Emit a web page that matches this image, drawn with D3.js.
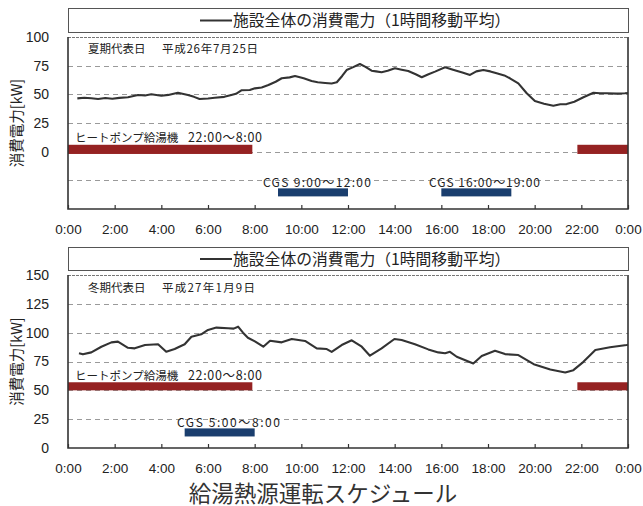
<!DOCTYPE html>
<html><head><meta charset="utf-8">
<script src="https://cdn.jsdelivr.net/npm/d3@7"></script>
<style>
html,body{margin:0;padding:0;background:#fff;}
svg{display:block;}
</style></head>
<body><svg id="chart" width="643" height="506"></svg>
<script>
// ---------------- DATA ----------------
const tickHours = [0,2,4,6,8,10,12,14,16,18,20,22,24];
const tickLabels = ["0:00","2:00","4:00","6:00","8:00","10:00","12:00","14:00","16:00","18:00","20:00","22:00","0:00"];

const legendLabel = "施設全体の消費電力（1時間移動平均）";
const yAxisTitle = "消費電力[kW]";
const chartTitle = "給湯熱源運転スケジュール";

// Summer representative day
const summerDayLabel = ["夏期代表日", "平成26年7月25日"];
const summerYTicks = [0,25,50,75,100];
const summerGrid = [-25,0,25,50,75];
const summerDomain = [-50,100];
const summerHours = [0.40,0.7,1.0,1.29,1.6,1.9,2.2,2.57,3.0,3.3,3.57,4.0,4.3,4.71,5.14,5.4,5.64,6.0,6.29,6.7,7.0,7.2,7.43,7.79,8.01,8.3,8.59,8.9,9.16,9.5,9.73,10.1,10.44,10.7,11.02,11.3,11.52,11.75,11.94,12.2,12.51,12.75,13.01,13.2,13.44,13.7,14.01,14.3,14.58,14.9,15.16,15.45,15.73,16.16,16.5,16.9,17.23,17.5,17.8,18.1,18.37,18.7,18.94,19.3,19.66,20.01,20.4,20.8,21.1,21.37,21.7,22.09,22.52,22.8,23.09,23.5,23.87,24.0];
const summerPower = [46.5,47.0,46.6,45.9,46.8,46.2,46.9,47.4,49.4,49.0,50.0,48.8,49.5,51.4,49.4,47.8,45.9,46.4,47.0,47.8,49.4,50.5,53.5,53.8,55.2,56.0,58.1,61.0,64.0,64.8,66.0,64.0,61.6,60.5,59.9,59.5,60.5,66.0,71.2,73.5,76.5,74.0,70.6,70.0,69.2,70.5,72.7,71.5,70.4,67.5,64.9,67.5,69.8,73.6,71.5,69.0,66.9,70.0,71.2,70.0,68.4,66.5,64.0,59.6,50.9,44.1,41.8,40.0,41.3,41.5,43.5,47.4,51.4,51.0,50.9,50.6,50.9,51.2];
// schedule bars: [start hour, end hour, low kW, high kW]
const summerHeatPump = [[0,7.9,-2,6],[21.83,24,-2,6]];
const summerCGS = [[9,12,-39,-32],[16,19,-39,-32]];
const summerHeatPumpText = ["ヒートポンプ給湯機", "22:00～8:00"];
const summerCGSText = ["CGS  9:00～12:00", "CGS  16:00～19:00"];

// Winter representative day
const winterDayLabel = ["冬期代表日", "平成27年1月9日"];
const winterYTicks = [0,25,50,75,100,125,150];
const winterGrid = [25,50,75,100,125];
const winterDomain = [0,150];
const winterHours = [0.47,0.64,1.0,1.43,1.86,2.14,2.57,2.86,3.3,3.86,4.21,4.57,5.0,5.29,5.71,6.0,6.36,6.86,7.1,7.29,7.5,7.71,8.01,8.37,8.66,9.16,9.59,10.16,10.66,11.09,11.3,11.73,12.16,12.59,12.94,13.44,13.99,14.3,14.87,15.44,15.87,16.16,16.37,16.66,17.37,17.73,18.3,18.73,19.3,19.96,20.67,21.31,21.66,22.09,22.6,23.23,23.94,24.0];
const winterPower = [82.1,81.2,82.9,87.8,91.6,92.2,86.9,86.4,89.3,89.9,83.4,85.8,89.9,96.5,98.6,102.4,104.4,103.8,103.5,105.2,100.0,95.6,92.5,87.8,93.0,91.6,94.5,92.8,86.4,85.8,83.4,89.3,93.4,87.8,80.0,86.4,94.5,93.6,89.9,85.5,82.9,82.1,83.4,79.1,73.3,79.7,84.3,81.4,80.6,72.7,68.1,65.5,67.5,74.7,84.9,87.3,89.3,89.5];
const winterHeatPump = [[0,7.9,50,57],[21.83,24,50,57]];
const winterCGS = [[5,8,10,17]];
const winterHeatPumpText = ["ヒートポンプ給湯機", "22:00～8:00"];
const winterCGSText = ["CGS  5:00～8:00"];

// ---------------- DRAW ----------------
const svg = d3.select("#chart");
const JP = "'Noto Sans CJK JP','Noto Sans',sans-serif";
const NUM = "'Liberation Sans',Arial,sans-serif";
const RED = "#952222", BLUE = "#1a3e6e", LINE = "#333333";

function panel(o){
  const g = svg.append("g");
  const x = d3.scaleLinear().domain([0,24]).range([68,628]);
  const y = d3.scaleLinear().domain(o.domain).range([o.bottom,o.top]);

  // legend box
  g.append("rect").attr("x",68.5).attr("y",o.legTop+0.5).attr("width",560).attr("height",o.legH)
    .attr("fill","#fff").attr("stroke","#555").attr("stroke-width",1);
  const ly = o.legTop + o.legH/2 + 0.5;
  g.append("line").attr("x1",200).attr("x2",232).attr("y1",ly).attr("y2",ly)
    .attr("stroke",LINE).attr("stroke-width",2);
  g.append("text").attr("x",233).attr("y",ly).attr("dy","0.36em")
    .attr("font-family",JP).attr("font-size",15.8).attr("fill","#222").text(legendLabel);

  // gridlines
  g.selectAll(".grid").data(o.grid).enter().append("line")
    .attr("x1",68).attr("x2",628).attr("y1",d=>Math.round(y(d))+0.5).attr("y2",d=>Math.round(y(d))+0.5)
    .attr("stroke","#9a9a9a").attr("stroke-width",1).attr("stroke-dasharray","5,4");

  // schedule bars
  g.selectAll(".hp").data(o.hp).enter().append("rect")
    .attr("x",d=>x(d[0])).attr("width",d=>x(d[1])-x(d[0]))
    .attr("y",d=>y(d[3])).attr("height",d=>y(d[2])-y(d[3])).attr("fill",RED);
  g.selectAll(".cgs").data(o.cgs).enter().append("rect")
    .attr("x",d=>x(d[0])).attr("width",d=>x(d[1])-x(d[0]))
    .attr("y",d=>y(d[3])).attr("height",d=>y(d[2])-y(d[3])).attr("fill",BLUE);

  // bar labels
  g.append("text").attr("x",75).attr("y",o.hpY).attr("font-family",JP).attr("font-size",11.5)
    .attr("fill","#222").text(o.hpText[0]);
  g.append("text").attr("x",188).attr("y",o.hpY).attr("font-family",JP).attr("font-size",12.5)
    .attr("fill","#222").attr("textLength",74).attr("lengthAdjust","spacing").text(o.hpText[1]);
  o.cgs.forEach((d,i)=>{
    g.append("text").attr("x",o.cgsX[i]).attr("y",o.cgsY).attr("font-family",JP).attr("font-size",12)
      .attr("fill","#222").attr("textLength",o.cgsW[i]).attr("lengthAdjust","spacing").text(o.cgsText[i]);
  });

  // day label
  g.append("text").attr("x",88).attr("y",o.dayY).attr("font-family",JP).attr("font-size",11.5)
    .attr("fill","#222").text(o.day[0]);
  g.append("text").attr("x",162).attr("y",o.dayY).attr("font-family",JP).attr("font-size",11.5)
    .attr("fill","#222").attr("textLength",o.dayW).attr("lengthAdjust","spacing").text(o.day[1]);

  // data line
  const pts = o.hours.map((h,i)=>[h,o.power[i]]);
  g.append("path").datum(pts)
    .attr("d",d3.line().x(d=>x(d[0])).y(d=>y(d[1])))
    .attr("fill","none").attr("stroke",LINE).attr("stroke-width",2.1).attr("stroke-linejoin","round");

  // frame
  g.append("line").attr("x1",68).attr("x2",628).attr("y1",o.top+0.5).attr("y2",o.top+0.5)
    .attr("stroke","#777").attr("stroke-width",1).attr("stroke-dasharray","3,1");
  g.append("path").attr("d",`M68,${o.top}V${o.bottom}H628V${o.top}`)
    .attr("fill","none").attr("stroke","#333").attr("stroke-width",1.6);

  // x axis
  const xa = d3.axisBottom(x).tickValues(tickHours).tickFormat((d,i)=>tickLabels[i])
    .tickSizeInner(-4).tickSizeOuter(0).tickPadding(15);
  const xg = g.append("g").attr("transform",`translate(0,${o.bottom})`).call(xa);
  xg.select(".domain").remove();
  xg.selectAll(".tick line").attr("stroke","#333").attr("stroke-width",1.2);
  xg.selectAll("text").attr("font-family",NUM).attr("font-size",13.5).attr("fill","#222");

  // y axis
  const ya = d3.axisLeft(y).tickValues(o.yTicks).tickSize(0).tickPadding(19);
  const yg = g.append("g").attr("transform","translate(68,0)").call(ya);
  yg.select(".domain").remove();
  yg.selectAll("text").attr("font-family",NUM).attr("font-size",14).attr("fill","#222");

  // y title
  g.append("text").attr("transform",`translate(22,${(o.top+o.bottom)/2}) rotate(-90)`)
    .attr("text-anchor","middle").attr("font-family",JP).attr("font-size",14.5).attr("fill","#222")
    .text(yAxisTitle);
}

panel({top:37, bottom:209, domain:summerDomain, grid:summerGrid, yTicks:summerYTicks,
  legTop:8, legH:24, hours:summerHours, power:summerPower,
  hp:summerHeatPump, cgs:summerCGS, hpText:summerHeatPumpText, cgsText:summerCGSText,
  hpY:142, cgsY:187, cgsX:[263,429], cgsW:[108,111], day:summerDayLabel, dayY:53, dayW:96});

panel({top:275, bottom:448, domain:winterDomain, grid:winterGrid, yTicks:winterYTicks,
  legTop:247, legH:23, hours:winterHours, power:winterPower,
  hp:winterHeatPump, cgs:winterCGS, hpText:winterHeatPumpText, cgsText:winterCGSText,
  hpY:380, cgsY:427, cgsX:[177], cgsW:[103], day:winterDayLabel, dayY:292, dayW:93});

svg.append("text").attr("x",323).attr("y",501.5).attr("text-anchor","middle")
  .attr("font-family",JP).attr("font-size",22.5).attr("fill","#333").text(chartTitle);
</script>
</body></html>
